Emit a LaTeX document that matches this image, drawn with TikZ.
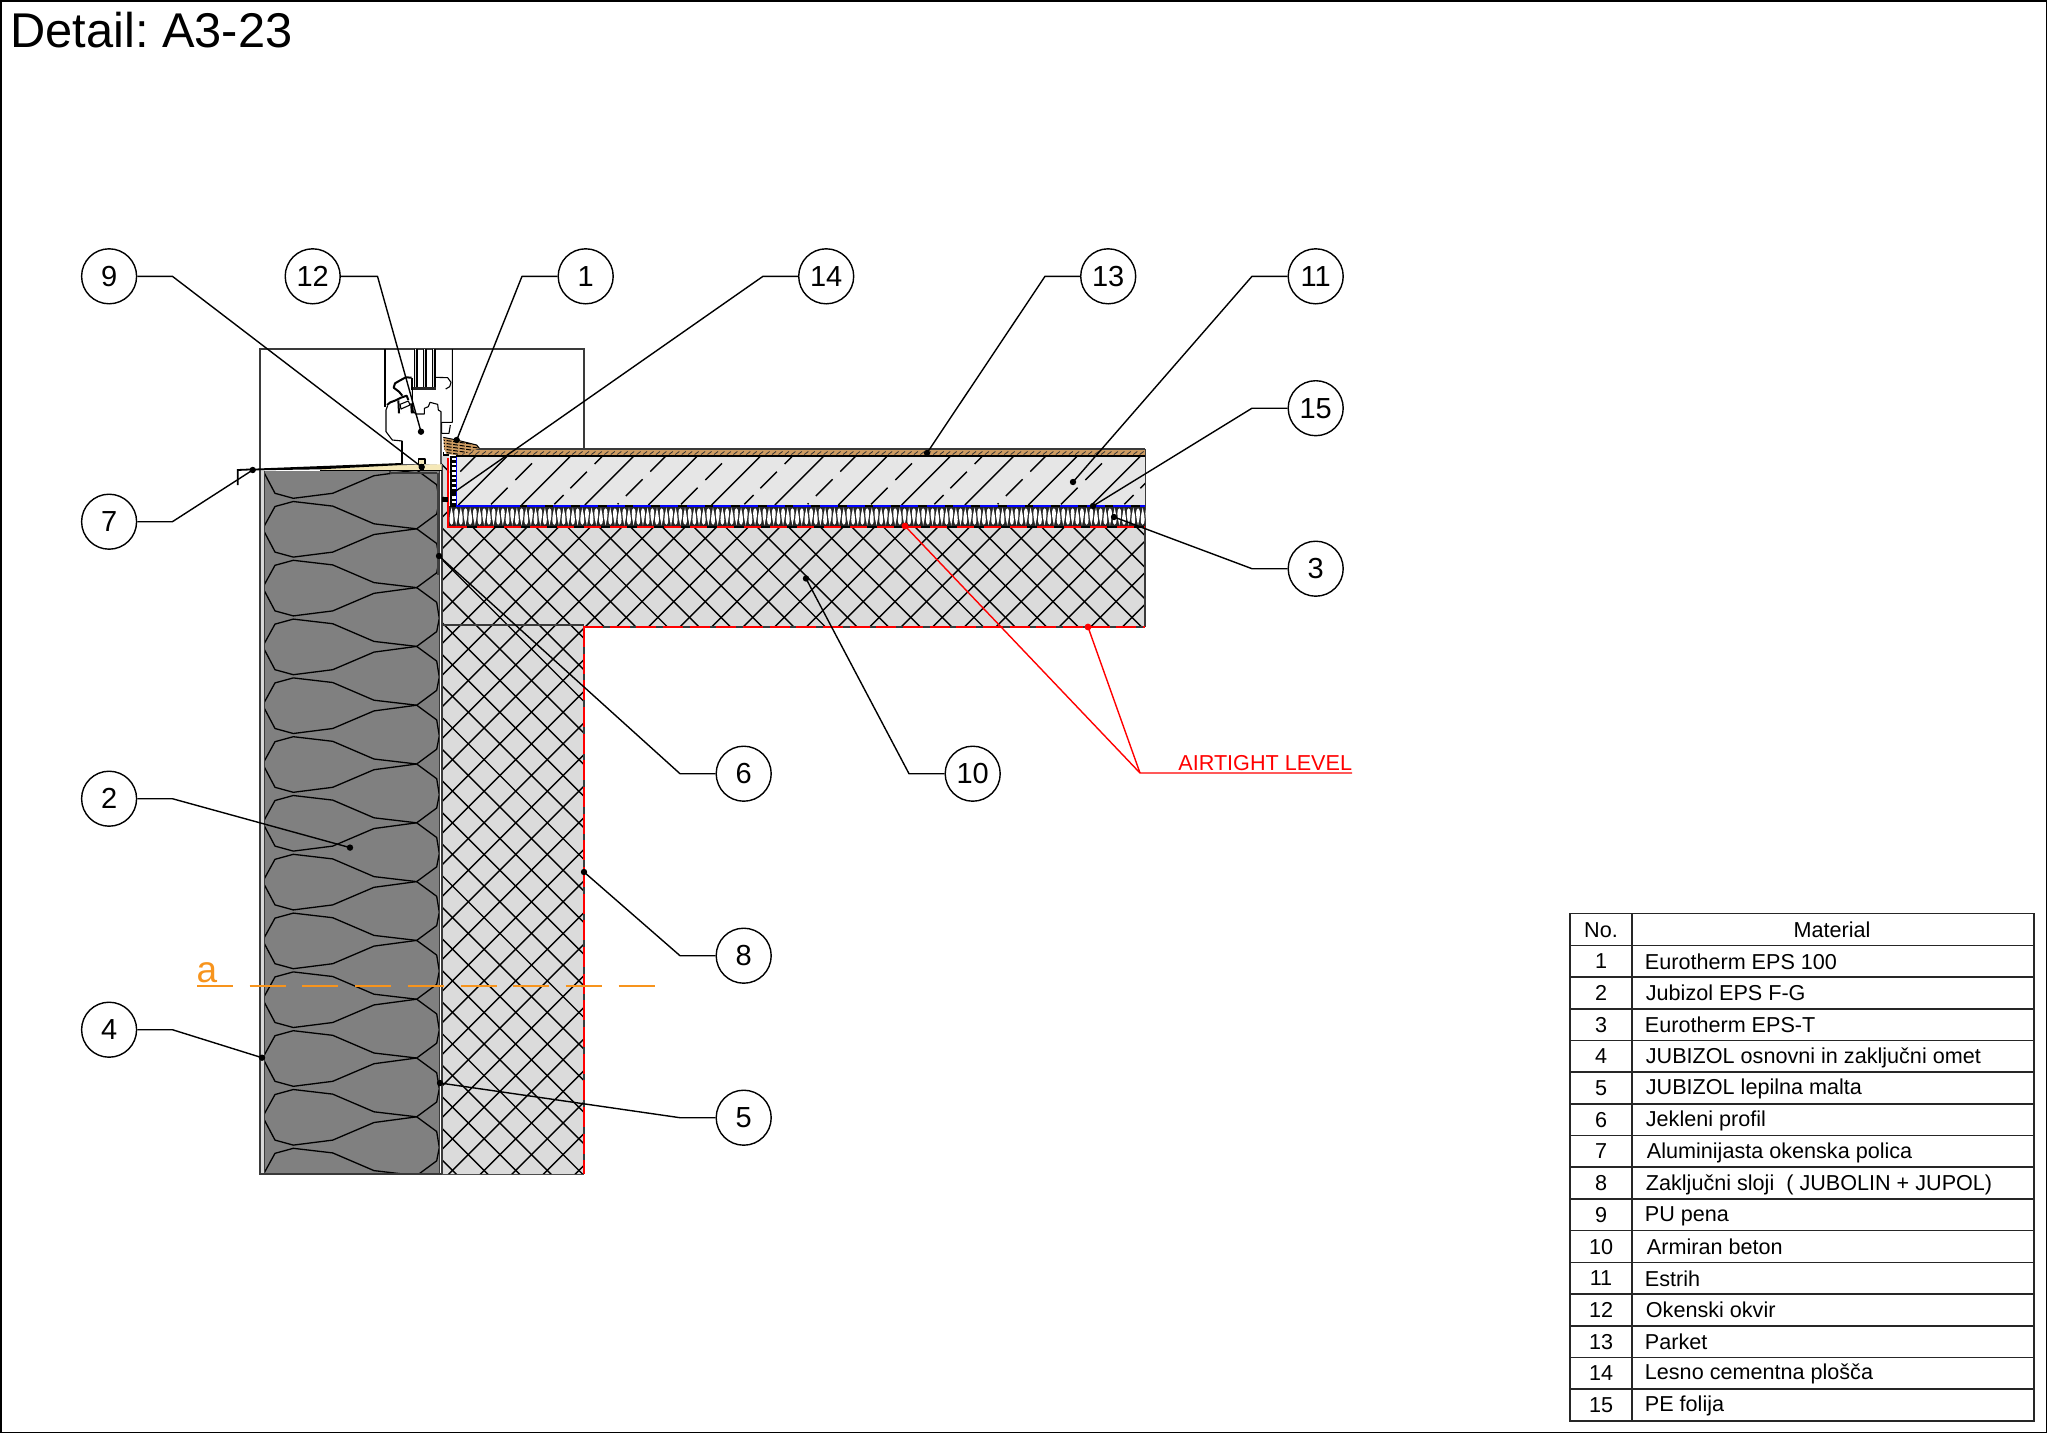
\documentclass[tikz,border=0pt]{standalone}
\usepackage{fontspec}
\setmainfont{Liberation Sans}
\definecolor{epsgray}{HTML}{808080}
\definecolor{conc}{HTML}{DBDBDB}
\definecolor{estr}{HTML}{E6E6E6}
\definecolor{plast}{HTML}{D8D8D8}
\definecolor{beig}{HTML}{F5E8B8}
\definecolor{park}{HTML}{CE9C62}
\definecolor{orng}{HTML}{F7941D}
\definecolor{edge}{HTML}{3A3A3A}
\tikzset{
 leader/.style={draw=black,line width=.7pt,line join=round},
 redleader/.style={draw=red,line width=.7pt},
 circ/.style={circle,draw=black,fill=white,line width=.7pt,minimum size=27.5pt,inner sep=0pt,xshift=.35pt,yshift=-.35pt,font=\fontsize{14.5}{16}\selectfont},
 dotm/.style={circle,fill=black,minimum size=3.2pt,inner sep=0pt},
 reddot/.style={circle,fill=red,minimum size=3.4pt,inner sep=0pt},
 hatchl/.style={draw=black,line width=.7pt},
 outl/.style={draw=edge,line width=.8pt},
 win/.style={draw=black,line width=.55pt,line join=round},
 winthick/.style={draw=black,line width=1pt,line join=round},
 cell/.style={font=\fontsize{10.8}{13}\selectfont,inner sep=0pt},
 tline/.style={draw=black!85,line width=.8pt},
}
\begin{document}
\frenchspacing
\begin{tikzpicture}[x=.5pt,y=-.5pt]
\useasboundingbox (0,0) rectangle (2048,1434);
\draw[draw=black,line width=.8pt] (1,1) rectangle (2046.5,1432.5);
\node[anchor=base west,inner sep=0pt,font=\fontsize{24.4}{28}\selectfont] (title) at (10,48) {Detail: A3-23};

% window box
\draw[outl,line width=.7pt] (260,470) -- (260,349) -- (584,349) -- (584,449);

% wall insulation
\fill[plast] (260,470) rectangle (265,1174);
\fill[epsgray] (264,471) rectangle (439.5,1174);
\begin{scope}
\clip (264.5,471) rectangle (439.5,1174);
\foreach \i in {0,...,12}{
 \pgfmathsetmacro\yy{470+58.8*\i}
 \draw[hatchl,line width=.65pt,line join=round] (262.7,\yy) -- (275,\yy+23.3) -- (293.3,\yy+28.3) -- (332.7,\yy+23.3) -- (374,\yy+5.7) -- (416.7,\yy);
 \draw[hatchl,line width=.65pt,line join=round] (262.7,\yy) -- (275,\yy-22.3) -- (293.3,\yy-27.3) -- (332.7,\yy-22.7) -- (374,\yy-5) -- (416.7,\yy);
 \draw[hatchl,line width=.65pt,line join=round] (416.7,\yy) -- (436.7,\yy+14.7) -- (439.3,\yy+30.7) -- (436.7,\yy+44) -- (416.7,\yy+58.8);
}
\end{scope}
\fill[black!75] (437,473) rectangle (440,575);
\draw[outl] (260,470) -- (260,1174) -- (584,1174);
\draw[outl] (264.5,471) -- (264.5,1174);
\draw[outl] (439.3,471) -- (439.3,1174);
\draw[outl,line width=.6pt] (390,473) -- (437,473);
\draw[outl,line width=.6pt] (390,471) -- (390,473);

% concrete
\fill[conc] (442,456) -- (449,456) -- (449,527) -- (1145,527) -- (1145,627) -- (583.8,627) -- (583.8,1174) -- (442,1174) -- cycle;
\begin{scope}
\clip (442,456) -- (449,456) -- (449,527) -- (1145,527) -- (1145,627) -- (583.8,627) -- (583.8,1174) -- (442,1174) -- cycle;
\foreach \k in {-15,...,11}{
 \pgfmathsetmacro\cc{1433.3+31.6*\k}
 \draw[hatchl] ({\cc-400},400) -- ({\cc-1300},1300);
}
\foreach \k in {-8,...,36}{
 \pgfmathsetmacro\cc{-496.7+31.6*\k}
 \draw[hatchl] ({\cc+400},400) -- ({\cc+1300},1300);
}
\end{scope}
\draw[outl,line width=.6pt] (442,625) -- (584,625);
\draw[outl] (441.7,465) -- (441.7,1174);
\draw[outl] (1145,449) -- (1145,627);

% screed
\fill[estr] (456,456) rectangle (1145,505.5);
\begin{scope}
\clip (456,456) rectangle (1145,505);
\foreach \k in {0,...,11}{
 \pgfmathsetmacro\cc{963.3+63.33*\k}
 \draw[hatchl] ({\cc-505},505) -- ({\cc-456},456);
}
\foreach \k in {0,3,6,9}{
 \pgfmathsetmacro\cc{995.3+63.33*\k}
 \draw[hatchl] ({\cc-504.3},504.3) -- ({\cc-487.7},487.7);
 \draw[hatchl] ({\cc-480},480) -- ({\cc-463.3},463.3);
}
\foreach \k in {1,4,7,10}{
 \pgfmathsetmacro\cc{995.3+63.33*\k}
 \draw[hatchl] ({\cc-504.3},504.3) -- ({\cc-495},495);
 \draw[hatchl] ({\cc-488.3},488.3) -- ({\cc-471.7},471.7);
 \draw[hatchl] ({\cc-464},464) -- ({\cc-456.7},456.7);
}
\foreach \k in {-1,2,5,8}{
 \pgfmathsetmacro\cc{995.3+63.33*\k}
 \draw[hatchl] ({\cc-504.3},504.3) -- ({\cc-503.3},503.3);
 \draw[hatchl] ({\cc-496},496) -- ({\cc-479.3},479.3);
 \draw[hatchl] ({\cc-471.7},471.7) -- ({\cc-456.7},456.7);
}
\end{scope}

% impact insulation: white drops on black, alternately up and down
\fill[black!85] (449,506) rectangle (1145,527);
\foreach \k in {0,2,...,148}{
 \pgfmathsetmacro\xx{451.5+4.67*\k}
 \fill[white] (\xx,507.5) .. controls (\xx+.8,512) and (\xx+1.9,515) .. (\xx+1.9,519.5) .. controls (\xx+1.9,526.5) and (\xx-1.9,526.5) .. (\xx-1.9,519.5) .. controls (\xx-1.9,515) and (\xx-.8,512) .. (\xx,507.5) -- cycle;
 \pgfmathsetmacro\xy{\xx+4.67}
 \fill[white] (\xy,525.5) .. controls (\xy+.8,521) and (\xy+1.9,518) .. (\xy+1.9,513.5) .. controls (\xy+1.9,506.5) and (\xy-1.9,506.5) .. (\xy-1.9,513.5) .. controls (\xy-1.9,518) and (\xy-.8,521) .. (\xy,525.5) -- cycle;
}

% membranes
\draw[black,line width=1.2pt] (456,506) -- (1145,506);
\draw[blue,line width=1.1pt,dash pattern=on 9pt off 4.33pt,dash phase=-22pt] (456,505.8) -- (1145,505.8);
\draw[blue,line width=1.1pt] (456,457) -- (456,505.8) -- (520,505.8);
\draw[black,line width=1.2pt] (449,527) -- (1145,527);
\draw[red,line width=1.1pt,dash pattern=on 8.5pt off 4.83pt,dash phase=-14pt] (449,527) -- (1145,527);
\draw[red,line width=1.1pt] (448,458) -- (448,527) -- (465,527);
\draw[edge,line width=1.3pt] (583.8,626) -- (583.8,1174);
\draw[red,line width=1.1pt,dash pattern=on 10pt off 3.33pt] (583.8,627) -- (583.8,1174);
\draw[edge,line width=1.3pt] (583,627) -- (1145,627);
\draw[red,line width=1.1pt,dash pattern=on 10pt off 3.33pt] (583,627) -- (1145,627);

% vertical strip
\fill[black] (449.5,456) rectangle (456,507);
\foreach \k in {0,...,9}{
 \draw[white,line width=1.15pt] (451.5,459+4.8*\k) -- (455.5,459+4.8*\k);
}

% parquet
\fill[park] (456,449) rectangle (1145,456);
\begin{scope}
\clip (456,449) rectangle (1145,456);
\foreach \k in {0,...,107}{
 \pgfmathsetmacro\xx{456+6.45*\k}
 \draw[black!80,line width=.4pt] (\xx,454.5) -- (\xx+4,451.5);
}
\end{scope}
\draw[edge,line width=.8pt] (456,449) -- (1145,449);
\draw[black,line width=.8pt] (456,456) -- (1145,456);

% parquet wedge (zoom 7 coordinates)
\begin{scope}[shift={(430,430)},x=.16667pt,y=-.16667pt]
\fill[park] (40,22) -- (80,30) -- (140,45) -- (148,55) -- (110,68) -- (75,75) -- (50,72) -- (42,55) -- cycle;
\begin{scope}
\clip (40,22) -- (80,30) -- (140,45) -- (148,55) -- (110,68) -- (75,75) -- (50,72) -- (42,55) -- cycle;
\foreach \k in {0,...,6}{
 \draw[black,line width=.5pt,dash pattern=on 2.5pt off .8pt] (30,20+9*\k) -- (160,38+9*\k);
}
\end{scope}
\draw[black,line width=.5pt] (40,22) -- (80,30) -- (140,45) -- (148,55);
\fill[black] (36,200) rectangle (55,215);
\draw[black,line width=.6pt] (40,66) -- (40,75) -- (56,75);
\end{scope}

% sill (zoom 6 coordinates)
\begin{scope}[shift={(225,440)},x=.16667pt,y=-.16667pt]
\fill[beig] (285,88) -- (530,74) -- (650,70) -- (650,92) -- (285,92) -- cycle;
\draw[black,line width=.5pt] (285,91) -- (650,91);
\draw[black,line width=.5pt] (530,74) -- (650,70);
\fill[black] (85,86) -- (530,69) -- (530,75) -- (285,88) -- (85,91) -- cycle;
\draw[black,line width=.9pt] (85,88) -- (38,90) -- (38,135);
\end{scope}

% window (zoom 5 coordinates)
\begin{scope}[shift={(375,345)},x=.16667pt,y=-.16667pt]
\draw[win] (30,12) -- (30,185);
\draw[win] (232,12) -- (232,232) -- (200,232) -- (200,265) -- (222,265) -- (226,240);
\fill[black!12] (118,12) rectangle (126,128);
\fill[black!12] (145,12) rectangle (153,128);
\fill[black!12] (172,12) rectangle (180,128);
\foreach \xx in {118,126,145,153,172,180}{\draw[win] (\xx,12) -- (\xx,128);}
\fill[black!85] (110,125) rectangle (182,135);
\fill[white] (198,358) -- (198,200) -- (190,195) -- (188,178) -- (165,172) -- (160,185) -- (148,190) -- (148,207) -- (122,207) -- (112,195) -- (100,185) -- (75,205) -- (40,180) -- (35,195) -- (33,260) -- (42,272) -- (52,285) -- (82,288) -- (82,358) -- cycle;
\draw[win] (198,358) -- (198,200) -- (190,195) -- (188,178) -- (165,172) -- (160,185) -- (148,190) -- (148,207) -- (122,207) -- (112,195) -- (112,135);
\draw[win] (38,182) -- (33,195) -- (33,260) -- (42,272) -- (52,285) -- (82,288);
\draw[winthick] (82,288) -- (82,356);
\draw[winthick] (110,98) -- (92,97) -- (72,108) -- (60,115) -- (56,128) -- (72,140) -- (82,152);
\draw[win] (182,97) -- (218,98) -- (228,112) -- (224,125) -- (212,132);
\draw[winthick] (112,98) -- (112,135);
\draw[winthick] (36,180) -- (46,172) -- (62,166) -- (78,158) -- (95,152) -- (100,165);
\draw[winthick] (70,166) -- (72,205);
\draw[win] (75,178) -- (100,168) -- (105,180) -- (78,192) -- cycle;
\draw[line width=1.5pt] (110,175) -- (112,205);
\fill[beig] (130,342) rectangle (150,358);
\draw[win] (130,358) -- (130,342) -- (150,342) -- (150,358);
\fill[black] (135,358) rectangle (148,375);
\end{scope}

% balloons
\node[circ] (n9) at (108.4,275.6) {9};
\node[circ] (n12) at (312,275.6) {12};
\node[circ] (n1) at (585,275.6) {1};
\node[circ] (n14) at (825.5,275.6) {14};
\node[circ] (n13) at (1107.5,275.6) {13};
\node[circ] (n11) at (1315,275.6) {11};
\node[circ] (n15) at (1315,407.5) {15};
\node[circ] (n3) at (1315,568) {3};
\node[circ] (n7) at (108.4,521) {7};
\node[circ] (n6) at (743,773) {6};
\node[circ] (n10) at (972,773) {10};
\node[circ] (n2) at (108.4,798) {2};
\node[circ] (n8) at (743,955) {8};
\node[circ] (n4) at (108.4,1029) {4};
\node[circ] (n5) at (743,1117) {5};

% leader targets
\node[dotm] (d9) at (421.7,467) {};
\node[dotm] (d12) at (421,431.7) {};
\node[dotm] (d1) at (456.7,440) {};
\node[dotm] (d14) at (453,493) {};
\node[dotm] (d13) at (927,453) {};
\node[dotm] (d11) at (1073,482) {};
\node[dotm] (d15) at (1093,506) {};
\node[dotm] (d3) at (1114,517) {};
\node[dotm] (d7) at (252.7,470) {};
\node[dotm] (d6) at (439,556) {};
\node[dotm] (d10) at (806,578.5) {};
\node[dotm] (d2) at (350,847.6) {};
\node[dotm] (d8) at (584,872) {};
\node[dotm] (d4) at (262,1057.7) {};
\node[dotm] (d5) at (440,1083) {};

\draw[leader] (n9.east) -- (172.4,276.3) -- (d9.center);
\draw[leader] (n12.east) -- (377.5,276.3) -- (d12.center);
\draw[leader] (n1.west) -- (522,276.3) -- (d1.center);
\draw[leader] (n14.west) -- (763,276.3) -- (d14.center);
\draw[leader] (n13.west) -- (1045,276.3) -- (d13.center);
\draw[leader] (n11.west) -- (1252,276.3) -- (d11.center);
\draw[leader] (n15.west) -- (1252,408.2) -- (d15.center);
\draw[leader] (n3.west) -- (1252,568.7) -- (d3.center);
\draw[leader] (n7.east) -- (172.4,521.7) -- (d7.center);
\draw[leader] (n6.west) -- (680,773.7) -- (d6.center);
\draw[leader] (n10.west) -- (909,773.7) -- (d10.center);
\draw[leader] (n2.east) -- (172.4,798.7) -- (d2.center);
\draw[leader] (n8.west) -- (680,955.7) -- (d8.center);
\draw[leader] (n4.east) -- (172.4,1029.7) -- (d4.center);
\draw[leader] (n5.west) -- (680,1117.7) -- (d5.center);

% airtight level
\node[anchor=base west,inner sep=0pt,text=red,font=\fontsize{10.8}{13}\selectfont] (air) at (1178,770.5) {AIRTIGHT LEVEL};
\coordinate (airend) at (1352,773);
\coordinate (airfork) at (1140,773);
\node[reddot] (r1) at (905,526) {};
\node[reddot] (r2) at (1088,627) {};
\draw[redleader] (airend) -- (airfork) -- (r1.center);
\draw[redleader] (airfork) -- (r2.center);

% section line
\node[anchor=base,inner sep=0pt,text=orng,font=\fontsize{18.5}{20}\selectfont] (seca) at (207,982) {a};
\coordinate (seca1) at (197,985.7);
\coordinate (seca2) at (656,985.7);
\draw[orng,line width=.8pt,dash pattern=on 18pt off 8.35pt] (seca1) -- (seca2);

% table
\draw[tline] (1570,913.6) rectangle (2034,1421);
\draw[tline] (1632,913.6) -- (1632,1421);
\foreach \i in {1,...,15}{\draw[tline] (1570,913.6+31.7*\i) -- (2034,913.6+31.7*\i);}
\node[cell,anchor=base] (hno) at (1601,937) {No.};
\node[cell,anchor=base] (hmat) at (1832,937) {Material};
\foreach \i/\t/\o/\v in {1/Eurotherm EPS 100/0/.8,2/Jubizol EPS F-G/1/.5,3/Eurotherm EPS-T/0/0,4/JUBIZOL osnovni in zaključni omet/1/-.5,5/JUBIZOL lepilna malta/1/-1,6/Jekleni profil/1/-.5,7/Aluminijasta okenska polica/2/0,8/{Zaključni sloji\ \ ( JUBOLIN + JUPOL)}/1/0,9/PU pena/0/-1,10/Armiran beton/2/0,11/Estrih/0/.5,12/Okenski okvir/1/.5,13/Parket/0/0,14/Lesno cementna plošča/0/-1,15/PE folija/0/-1.5}{
 \node[cell,anchor=base] (no\i) at (1601,937+31.7*\i) {\i};
 \node[cell,anchor=base west] (tx\i) at (1644.5+\o,937+31.7*\i+\v) {\t};
}
\end{tikzpicture}
\end{document}
